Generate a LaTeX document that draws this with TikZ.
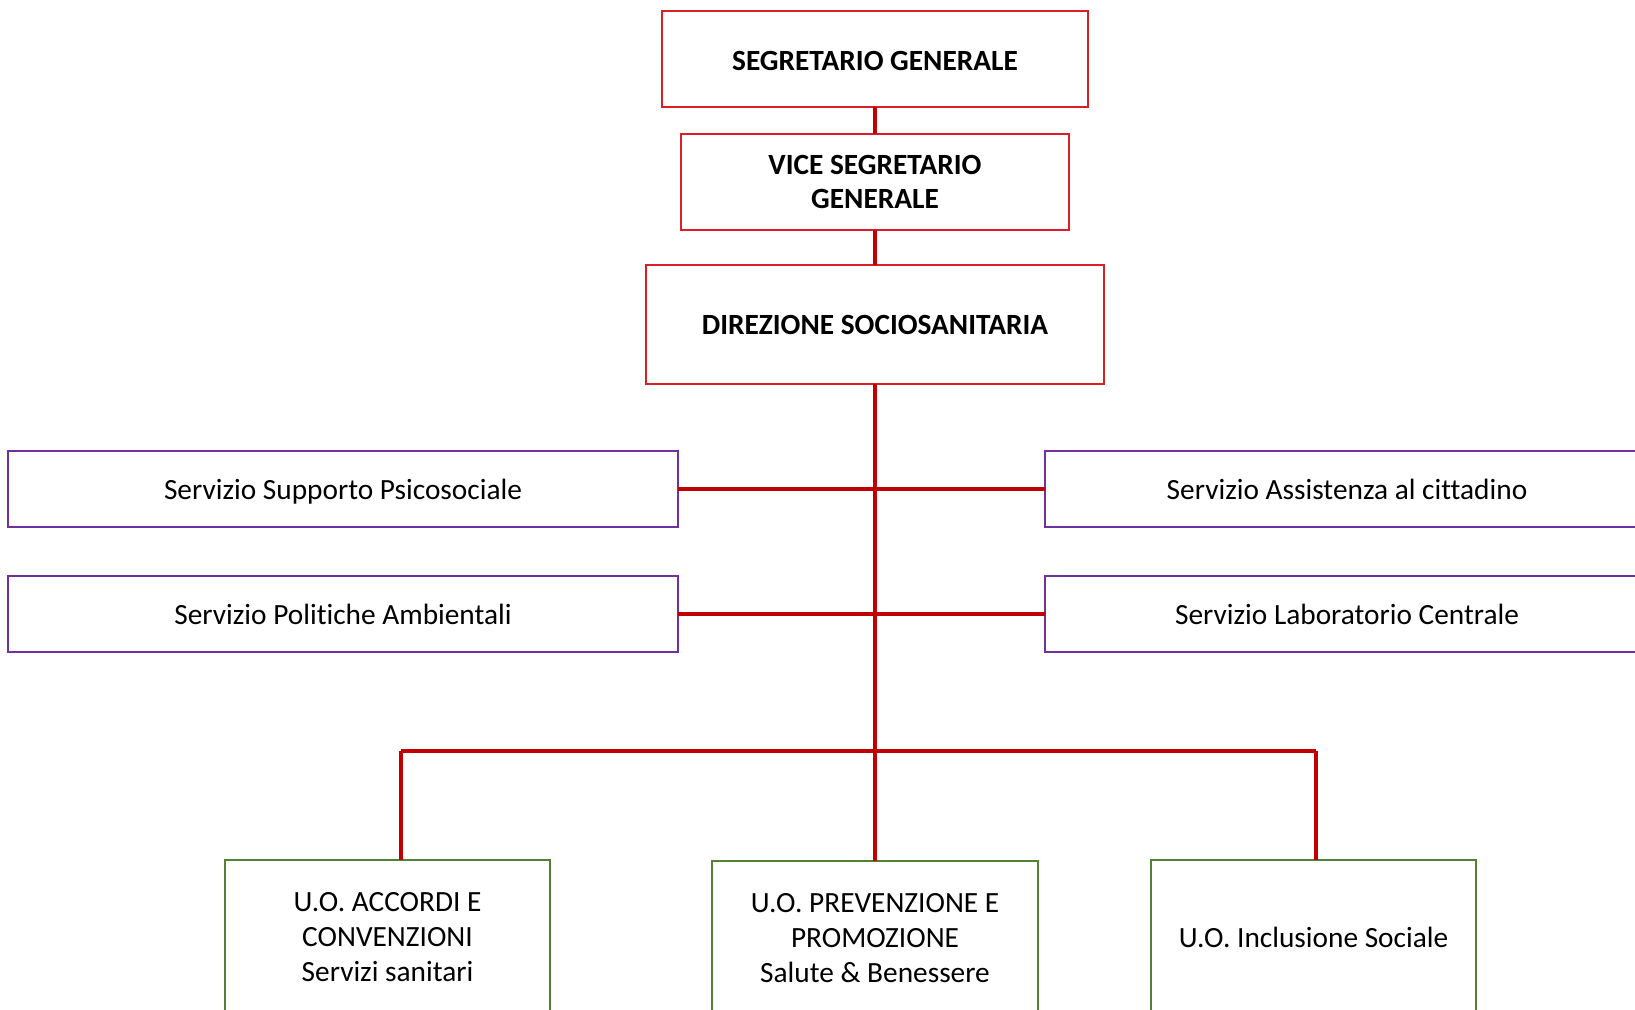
\documentclass[tikz,border=0pt]{standalone}
\usepackage{fontspec}
\setmainfont{Carlito}[Ligatures=NoCommon]
\usepackage{tikz}
\definecolor{boxred}{RGB}{220,30,40}
\definecolor{linered}{RGB}{192,0,0}
\definecolor{boxpurple}{RGB}{112,48,160}
\definecolor{boxgreen}{RGB}{84,130,53}

\begin{document}
\begin{tikzpicture}[x=0.375pt,y=-0.375pt,
    every node/.style={font=\fontsize{11}{13.1}\selectfont,align=center,inner sep=0pt,outer sep=0pt},
    topbox/.style={draw=boxred,line width=0.75pt,font=\fontsize{11}{13.1}\selectfont\bfseries},
    servbox/.style={draw=boxpurple,line width=0.75pt,minimum width=251.25pt,minimum height=28.5pt,text height=7.6pt,text depth=0pt},
    uobox/.style={draw=boxgreen,line width=0.75pt,minimum width=121.9pt,minimum height=57.75pt},
    conn/.style={linered,line width=1.3pt}]
          \clip (0,0) rectangle (1635,1010);
          \fill[white] (0,0) rectangle (1635,1010);
          % vertici
          \node[topbox,minimum width=159.75pt,minimum height=36pt,text height=8.6pt,text depth=0pt] (sg) at (875,59) {SEGRETARIO GENERALE};
          \node[topbox,minimum width=145.5pt,minimum height=36pt] (vsg) at (875,182) {VICE SEGRETARIO\\GENERALE};
          \node[topbox,minimum width=172.1pt,minimum height=44.6pt] (dir) at (875,324.5) {DIREZIONE SOCIOSANITARIA};
          % servizi
          \node[servbox] (psi) at (343,489) {Servizio Supporto Psicosociale};
          \node[servbox] (amb) at (343,614) {Servizio Politiche Ambientali};
          \node[servbox,minimum width=226.5pt] (ass) at (1347,489) {Servizio Assistenza al cittadino};
          \node[servbox,minimum width=226.5pt] (lab) at (1347,614) {Servizio Laboratorio Centrale};
          % unita operative
          \node[uobox] (uo1) at (387.5,937) {U.O. ACCORDI E\\CONVENZIONI\\Servizi sanitari};
          \node[uobox] (uo2) at (875,938) {U.O. PREVENZIONE E\\PROMOZIONE\\Salute \& Benessere};
          \node[uobox] (uo3) at (1313.5,937) {U.O. Inclusione Sociale};
          \coordinate (bl) at (401,751);
          \coordinate (bm) at (875,751);
          \coordinate (br) at (1316,751);
          \draw[conn] (sg) -- (vsg);
          \draw[conn] (vsg) -- (dir);
          \draw[conn] (dir) -- (uo2);
          \draw[conn] (psi.east) -- (ass.west);
          \draw[conn] (amb.east) -- (lab.west);
          \draw[conn] (bl) -- (br);
          \draw[conn] (bl) -- (bl |- uo1.north);
          \draw[conn] (br) -- (br |- uo3.north);
        \end{tikzpicture}
\end{document}
